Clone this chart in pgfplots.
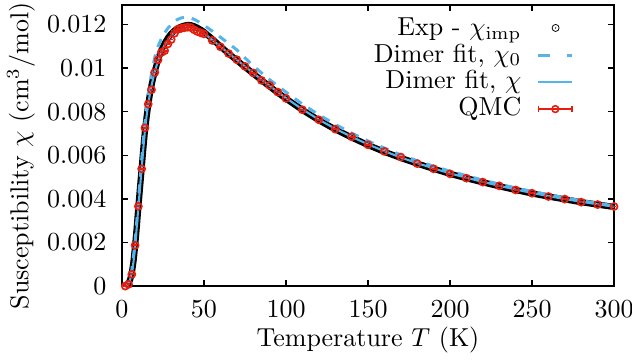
\documentclass[border=0pt]{standalone}
\usepackage{pgfplots}
\usepackage{pgfplotstable}
\pgfplotsset{compat=1.18}

\definecolor{fitblue}{HTML}{56B4E9}
\definecolor{qmcred}{HTML}{E51E10}

% open circle with a short horizontal bar (error-bar caps) through it
\pgfdeclareplotmark{qmcpt}{%
  \pgfpathcircle{\pgfpointorigin}{\pgfplotmarksize}\pgfusepathqstroke
  \pgfpathmoveto{\pgfqpoint{-0.55\pgfplotmarksize}{0pt}}%
  \pgfpathlineto{\pgfqpoint{0.55\pgfplotmarksize}{0pt}}\pgfusepathqstroke}

% small open circle with a centre dot, for the measured data
\pgfdeclareplotmark{expt}{%
  \pgfpathcircle{\pgfpointorigin}{\pgfplotmarksize}\pgfusepathqstroke
  \pgfpathcircle{\pgfpointorigin}{0.22\pgfplotmarksize}\pgfusepathqfill}

% experimental susceptibility (impurity subtracted)
\pgfplotstableread{
T chi
0 0
2 0.000003
3 0.00003
4 0.00012
5 0.00030
6 0.00060
7 0.00112
8 0.00183
9 0.00270
10 0.00364
11 0.00452
12 0.00540
13 0.00630
14 0.00712
15 0.00775
16 0.00832
17 0.00880
18 0.00921
19 0.00955
20 0.00985
22 0.01040
24 0.01082
26 0.01113
28 0.01138
30 0.01158
32 0.01172
34 0.01183
36 0.01190
38 0.01195
40 0.01198
42 0.01197
44 0.01192
46 0.01185
48 0.01176
50 0.01166
55 0.01134
60 0.01100
65 0.01067
70 0.01036
75 0.01005
80 0.00975
85 0.00945
90 0.00916
95 0.00887
100 0.00860
110 0.00808
120 0.00761
130 0.00719
140 0.00682
150 0.00647
160 0.00616
170 0.00588
180 0.00562
190 0.00538
200 0.00515
210 0.00495
220 0.00476
230 0.00458
240 0.00441
250 0.00425
260 0.00411
270 0.00398
280 0.00385
290 0.00374
300 0.00363
}\expdata

% dimer fit, chi_0
\pgfplotstableread{
T chi
0 0
2 0.000005
4 0.00015
6 0.00072
8 0.00200
10 0.00390
12 0.00580
14 0.00750
16 0.00880
18 0.00975
20 0.01050
22 0.01100
24 0.01135
26 0.01162
28 0.01183
30 0.01200
32 0.01214
34 0.01224
36 0.01230
38 0.01233
40 0.01232
42 0.01229
44 0.01224
46 0.01216
48 0.01207
50 0.01197
55 0.01170
60 0.01142
65 0.01113
70 0.01084
80 0.01010
90 0.00947
100 0.00890
110 0.00835
120 0.00786
130 0.00742
140 0.00702
150 0.00666
160 0.00633
170 0.00602
180 0.00575
190 0.00550
200 0.00527
220 0.00486
240 0.00450
260 0.00419
280 0.00392
300 0.00368
}\chizero

% dimer fit, chi
\pgfplotstableread{
T chi
0 0
2 0.000003
3 0.00003
4 0.00012
5 0.00030
6 0.00060
7 0.00110
8 0.00182
9 0.00270
10 0.00363
11 0.00452
12 0.00540
13 0.00630
14 0.00715
15 0.00780
16 0.00835
17 0.00880
18 0.00920
19 0.00952
20 0.00982
22 0.01036
24 0.01076
26 0.01106
28 0.01130
30 0.01150
32 0.01165
34 0.01175
36 0.01182
38 0.01187
40 0.01189
42 0.01188
44 0.01184
46 0.01178
48 0.01170
50 0.01160
55 0.01130
60 0.01099
65 0.01068
70 0.01038
75 0.01008
80 0.00978
85 0.00948
90 0.00919
95 0.00890
100 0.00863
110 0.00811
120 0.00764
130 0.00722
140 0.00685
150 0.00650
160 0.00619
170 0.00590
180 0.00564
190 0.00540
200 0.00517
210 0.00497
220 0.00478
230 0.00460
240 0.00443
250 0.00427
260 0.00413
270 0.00399
280 0.00387
290 0.00375
300 0.00364
}\chifit

% quantum Monte Carlo
\pgfplotstableread{
T chi
2 0.00000
4 0.00008
6 0.00054
8 0.00187
10 0.00366
12 0.00538
14 0.00726
16 0.00835
18 0.00901
20 0.00980
22 0.01038
24 0.01072
26 0.01080
28 0.01111
30 0.01131
32 0.01160
34 0.01178
36 0.01182
38 0.01185
40 0.01188
42 0.01186
44 0.01176
46 0.01168
48 0.01162
50 0.01157
55 0.01127
60 0.01098
65 0.01067
70 0.01039
75 0.01008
80 0.00978
85 0.00944
90 0.00921
95 0.00890
100 0.00861
110 0.00809
120 0.00763
130 0.00720
140 0.00685
150 0.00648
160 0.00618
170 0.00592
180 0.00562
190 0.00538
200 0.00515
210 0.00495
220 0.00477
230 0.00460
240 0.00441
250 0.00426
260 0.00411
270 0.00399
280 0.00385
290 0.00374
300 0.00365
}\qmcdata

\begin{document}
\begin{tikzpicture}
\path[use as bounding box] (0,0) rectangle (243pt,138.5pt);
\begin{axis}[
  at={(46.9pt,28.5pt)}, anchor=south west,
  scale only axis, width=189.2pt, height=108.1pt,
  xmin=0, xmax=300, ymin=0, ymax=0.0129,
  xtick={0,50,100,150,200,250,300},
  ytick={0,0.002,0.004,0.006,0.008,0.01,0.012},
  scaled y ticks=false,
  yticklabel style={/pgf/number format/fixed,/pgf/number format/precision=3, xshift=-2.5pt},
  xticklabel style={yshift=-2pt},
  major tick length=2.5pt,
  tick style={black, line width=0.5pt},
  axis line style={line width=0.5pt},
  xlabel={Temperature $T$ (K)},
  ylabel={Susceptibility $\chi$ (cm$^3$/mol)},
  xlabel style={at={(axis description cs:0.5,-0.19)}, anchor=center},
  ylabel style={at={(axis description cs:-0.205,0.463)}, anchor=center},
  legend plot pos=right,
  legend cell align=right,
  legend style={draw=none, fill=none, at={(0.935,0.982)}, anchor=north east,
    column sep=6pt, row sep=0.3pt,
    nodes={inner sep=0pt, text height=7.5pt, text depth=2.5pt}},
]
\addplot[black, line width=2.4pt, line join=round,
  legend image code/.code={%
    \begin{scope}[line width=0.3pt, draw=black, fill=black]
      \pgfplotsset{mark size=1.35pt}
      \pgftransformshift{\pgfqpoint{6.6pt}{0.3pt}}
      \pgfuseplotmark{expt}
    \end{scope}}]
  table[x=T, y=chi] {\expdata};
\addlegendentry{Exp - $\chi_{\mathrm{imp}}$}

\addplot[fitblue, line width=1.15pt, dash pattern=on 3.3pt off 3pt,
  legend image code/.code={%
    \draw[fitblue, line width=1.15pt, solid] (0pt,0pt) -- (4.6pt,0pt) (10.8pt,0pt) -- (13pt,0pt);}]
  table[x=T, y=chi] {\chizero};
\addlegendentry{Dimer fit, $\chi_0$}

\addplot[fitblue, line width=0.8pt,
  legend image code/.code={%
    \draw[fitblue, line width=0.8pt] (0pt,0pt) -- (13pt,0pt);}]
  table[x=T, y=chi] {\chifit};
\addlegendentry{Dimer fit, $\chi$}

\addplot[qmcred, only marks, mark=qmcpt, mark size=1.35pt,
  mark options={line width=0.65pt},
  legend image code/.code={%
    \draw[qmcred, line width=0.6pt] (0pt,0pt) -- (13pt,0pt)
      (0pt,-1.3pt) -- (0pt,1.3pt) (13pt,-1.3pt) -- (13pt,1.3pt);
    \draw[qmcred, line width=0.6pt] (6.5pt,0pt) circle (1.3pt);}]
  table[x=T, y=chi] {\qmcdata};
\addlegendentry{QMC}
\end{axis}
\end{tikzpicture}
\end{document}
